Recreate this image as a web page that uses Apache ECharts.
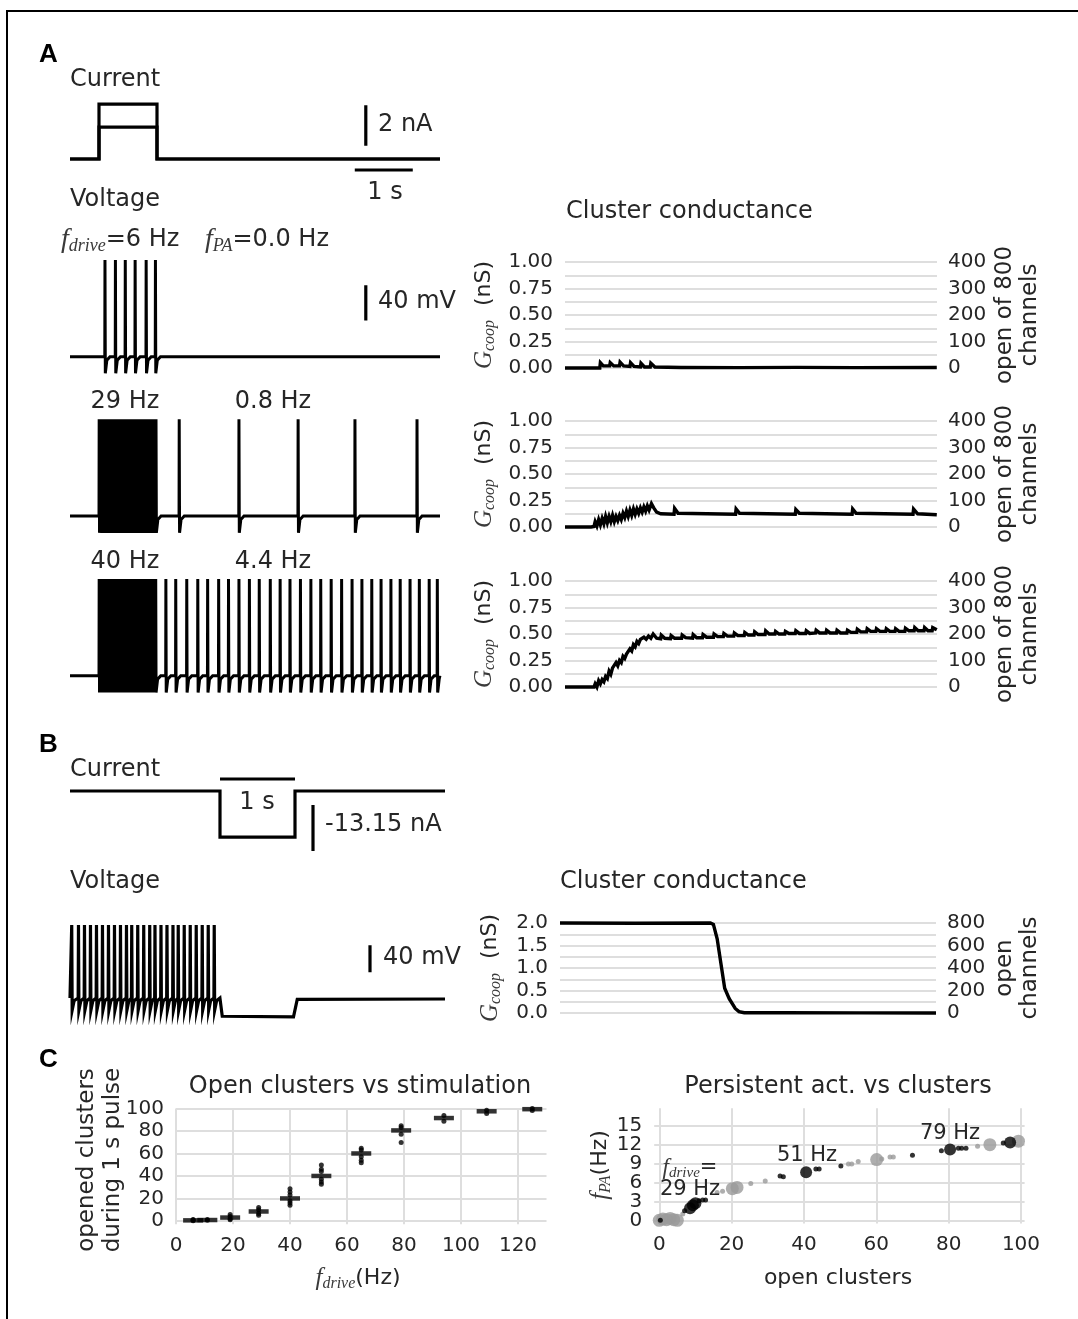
<!DOCTYPE html>
<html>
<head>
<meta charset="utf-8">
<script src="https://cdn.jsdelivr.net/npm/echarts@6.0.0/dist/echarts.min.js"></script>
<style>
html,body{margin:0;padding:0;background:#ffffff;}
#chart{width:1078px;height:1319px;}
</style>
</head>
<body>
<div id="chart"></div>
<script>
// ================= DATA =================
// ---- Panel A : stimulation (s, nA) ----
const pulseA = [0.5, 1.5];
const currentLevelsA = [1.58, 2.72];
// spike times (s)
const spikes6Hz = [0.60, 0.78, 0.95, 1.12, 1.31, 1.47];
const spikes29HzPulse = [0.50,0.535,0.57,0.605,0.64,0.675,0.71,0.745,0.78,0.815,0.85,0.885,0.92,0.955,0.99,1.025,1.06,1.095,1.13,1.165,1.20,1.235,1.27,1.305,1.34,1.375,1.41,1.445,1.48];
const spikes29HzAfter = [1.88, 2.91, 3.93, 4.91, 5.98];
const spikes40HzPulse = [0.50,0.525,0.55,0.575,0.60,0.625,0.65,0.675,0.70,0.725,0.75,0.775,0.80,0.825,0.85,0.875,0.90,0.925,0.95,0.975,1.00,1.025,1.05,1.075,1.10,1.125,1.15,1.175,1.20,1.225,1.25,1.275,1.30,1.325,1.35,1.375,1.40,1.425,1.45,1.475];
const spikes40HzAfter = [1.65,1.82,2.01,2.20,2.37,2.56,2.73,2.91,3.09,3.26,3.45,3.62,3.79,3.97,4.15,4.32,4.50,4.68,4.86,5.03,5.20,5.36,5.53,5.69,5.86,6.02,6.19,6.33];
// cluster conductance [t (s), G (nS)]
const gcoop6Hz = [[0,0],[0.60,0],[0.61,0.05],[0.66,0.02],[0.77,0.02],[0.78,0.05],[0.84,0.02],[0.94,0.02],[0.95,0.055],[1.01,0.02],[1.12,0.015],[1.13,0.05],[1.19,0.015],[1.30,0.01],[1.31,0.045],[1.37,0.01],[1.47,0.01],[1.48,0.045],[1.55,0.01],[2.0,0.005],[3.0,0.004],[4.0,0.006],[5.0,0.004],[6.41,0.005]];
const gcoop29Hz = [[0,0],[0.45,0],[0.50,0.005],[0.52,0.05],[0.55,0.01],[0.58,0.07],[0.61,0.02],[0.64,0.08],[0.67,0.03],[0.70,0.10],[0.73,0.04],[0.76,0.10],[0.79,0.05],[0.82,0.11],[0.85,0.05],[0.88,0.10],[0.91,0.06],[0.94,0.11],[0.97,0.07],[1.00,0.13],[1.03,0.09],[1.06,0.15],[1.09,0.10],[1.12,0.16],[1.15,0.11],[1.18,0.17],[1.21,0.12],[1.24,0.17],[1.27,0.13],[1.30,0.18],[1.33,0.14],[1.36,0.19],[1.39,0.15],[1.42,0.20],[1.45,0.16],[1.49,0.22],[1.53,0.18],[1.58,0.14],[1.65,0.125],[1.88,0.12],[1.89,0.175],[1.95,0.13],[2.94,0.12],[2.95,0.17],[3.01,0.13],[3.97,0.12],[3.98,0.165],[4.04,0.13],[4.95,0.12],[4.96,0.17],[5.02,0.13],[6.00,0.12],[6.01,0.17],[6.08,0.125],[6.41,0.115]];
const gcoop40Hz = [[0,0],[0.50,0],[0.52,0.03],[0.55,0.00],[0.58,0.06],[0.61,0.03],[0.64,0.07],[0.67,0.05],[0.70,0.10],[0.73,0.08],[0.76,0.15],[0.79,0.12],[0.82,0.18],[0.85,0.17],[0.88,0.23],[0.91,0.20],[0.94,0.25],[0.97,0.23],[1.00,0.29],[1.03,0.27],[1.06,0.31],[1.09,0.30],[1.12,0.36],[1.15,0.34],[1.18,0.40],[1.21,0.38],[1.24,0.43],[1.27,0.41],[1.30,0.45],[1.33,0.44],[1.36,0.47],[1.40,0.45],[1.44,0.48],[1.48,0.46],[1.52,0.50],[1.58,0.46],[1.65,0.455],[1.66,0.49],[1.72,0.46],[1.82,0.455],[1.83,0.485],[1.89,0.46],[2.01,0.46],[2.02,0.49],[2.08,0.465],[2.20,0.46],[2.21,0.495],[2.27,0.465],[2.37,0.465],[2.38,0.495],[2.44,0.47],[2.56,0.47],[2.57,0.50],[2.63,0.475],[2.73,0.475],[2.74,0.505],[2.80,0.48],[2.91,0.48],[2.92,0.51],[2.98,0.485],[3.09,0.485],[3.10,0.515],[3.16,0.49],[3.26,0.49],[3.27,0.52],[3.33,0.495],[3.45,0.495],[3.46,0.53],[3.52,0.50],[3.62,0.50],[3.63,0.525],[3.69,0.50],[3.79,0.50],[3.80,0.525],[3.86,0.505],[3.97,0.505],[3.98,0.53],[4.04,0.505],[4.15,0.505],[4.16,0.53],[4.22,0.505],[4.32,0.51],[4.33,0.535],[4.39,0.51],[4.50,0.51],[4.51,0.535],[4.57,0.51],[4.68,0.51],[4.69,0.535],[4.75,0.51],[4.86,0.51],[4.87,0.535],[4.93,0.515],[5.03,0.515],[5.04,0.545],[5.10,0.52],[5.20,0.52],[5.21,0.55],[5.27,0.525],[5.36,0.525],[5.37,0.55],[5.43,0.525],[5.53,0.525],[5.54,0.55],[5.60,0.525],[5.69,0.525],[5.70,0.55],[5.76,0.525],[5.86,0.525],[5.87,0.555],[5.93,0.53],[6.02,0.53],[6.03,0.56],[6.09,0.53],[6.19,0.53],[6.20,0.56],[6.26,0.53],[6.33,0.53],[6.34,0.56],[6.41,0.54]];

// ---- Panel B ----
const pulseB = [2.0, 3.0];
const currentB = -13.15;
const spikesB = [0.02,0.11,0.19,0.27,0.35,0.43,0.51,0.59,0.67,0.75,0.82,0.90,0.98,1.06,1.13,1.21,1.29,1.37,1.44,1.52,1.60,1.68,1.76,1.84,1.92];
const voltageBTail = [[2.0,-70],[2.03,-97],[2.98,-98],[3.03,-72],[5.0,-71.5]];
const gcoopB = [[0,2.0],[1.0,1.995],[2.0,2.0],[2.04,1.97],[2.09,1.65],[2.15,0.99],[2.19,0.55],[2.25,0.32],[2.33,0.10],[2.38,0.03],[2.45,0.005],[3.0,0.005],[4.0,0.002],[5.0,0.0]];

// ---- Panel C left : opened clusters vs f_drive ----
const fdriveMeans = [6, 11, 19, 29, 40, 51, 65, 79, 94, 109, 125];
const openedMeans = [0.5, 0.8, 3, 8.4, 20, 40, 60, 80.5, 91.5, 97.5, 99.4];
const trialFdrive  = [6,6,6, 11,11, 19,19,19,19, 29,29,29,29, 40,40,40,40,40,40, 51,51,51,51,51,51, 65,65,65,65,65, 79,79,79,79, 94,94, 109,109, 125,125];
const trialOpened  = [0.2,0.9,1.2, 0.5,1.3, 1,2,4,5.7, 5,6.5,10,12, 14,16,18,23,25.7,28.7, 32.6,34.7,37,44,46,49.7, 51.8,54,57,63,64.7, 69.8,77,83,84.7, 88.6,93.7, 95.5,98.5, 98.2,100];

// ---- Panel C right : f_PA vs open clusters ----
const blackBigX = [8.5, 9.3, 10.0, 40.6, 80.4, 97.0];
const blackBigY = [2.0, 2.5, 2.8, 7.7, 11.3, 12.4];
const blackSmallX = [0.3, 7.0, 11.0, 12.0, 12.8, 33.4, 34.3, 43.3, 44.2, 50.2, 70.0, 78.0, 82.7, 83.6, 84.8, 95.1];
const blackSmallY = [0.1, 1.6, 3.2, 3.3, 3.3, 7.1, 7.0, 8.2, 8.2, 8.7, 10.4, 11.1, 11.5, 11.5, 11.5, 12.3];
const grayBigX = [0, 1, 2, 3, 4, 5, 20.2, 21.5, 60.1, 91.4, 99.3];
const grayBigY = [0.1, 0.3, 0.2, 0.4, 0.2, 0.1, 5.1, 5.3, 9.7, 12.05, 12.6];
const graySmallX = [6.5, 16.0, 17.5, 25.3, 29.3, 52.3, 53.2, 55.0, 61.5, 63.8, 64.7, 88.0];
const graySmallY = [1.1, 4.5, 4.7, 5.9, 6.3, 9.0, 9.0, 9.4, 9.8, 10.1, 10.1, 11.8];

// ---- tick labels ----
const condTicksA = [0, 0.25, 0.5, 0.75, 1.0];
const chanTicksA = [0, 100, 200, 300, 400];
const condTicksB = [0, 0.5, 1.0, 1.5, 2.0];
const chanTicksB = [0, 200, 400, 600, 800];
const cLeftXTicks = [0, 20, 40, 60, 80, 100, 120];
const cLeftYTicks = [0, 20, 40, 60, 80, 100];
const cRightXTicks = [0, 20, 40, 60, 80, 100];
const cRightYTicksEven = [0, 6, 12];
const cRightYTicksOdd = [3, 9, 15];

// scale bars [t, value] pairs
const scaleA1s = [[4.91, -0.545], [5.91, -0.545]];
const scaleA2nA = [[5.1, 0.66], [5.1, 2.66]];
const scaleA40mV = [[5.1, -29], [5.1, 11]];
const scaleB1s = [[2.0, 3.43], [3.0, 3.43]];
const scaleB13nA = [[3.24, -4.0], [3.24, -17.15]];
const scaleB40mV = [[4.0, -32], [4.0, 8]];

// ================= BUILD =================
const TXT = '#262626';
const GRIDC = '#dedede';
const SANS = 'DejaVu Sans';
const SERIF = 'Liberation Serif';

const grids = [], xAxes = [], yAxes = [], series = [];

function hiddenPanel(box, xr, yr) {
  const gi = grids.push(Object.assign({ outerBoundsMode: 'none', containLabel: false }, box)) - 1;
  const xi = xAxes.push({ type: 'value', gridIndex: gi, min: xr[0], max: xr[1], show: false }) - 1;
  const yi = yAxes.push({ type: 'value', gridIndex: gi, min: yr[0], max: yr[1], show: false }) - 1;
  return { gi, xi, yi };
}
function addLine(ax, data, width) {
  series.push({
    type: 'line', xAxisIndex: ax.xi, yAxisIndex: ax.yi, data: data,
    showSymbol: false, symbol: 'none', clip: false, silent: true, animation: false,
    lineStyle: { color: '#000', width: width || 3, join: 'miter' }
  });
}
function spikeTrace(spikes, tEnd, base, peak, trough, tail) {
  const pts = [[0, base]];
  const tailPts = tail || [[tEnd, base]];
  for (let i = 0; i < spikes.length; i++) {
    const t = spikes[i];
    const next = i + 1 < spikes.length ? spikes[i + 1] : tailPts[0][0];
    pts.push([t, base], [t + 0.003, peak], [t + 0.009, trough]);
    const rec = Math.min(t + 0.035, next - 0.004);
    if (rec > t + 0.009) pts.push([rec, base - 4]);
    const back = Math.min(t + 0.09, next - 0.001);
    if (back > rec && back > t + 0.009) pts.push([back, base]);
  }
  tailPts.forEach(p => pts.push(p));
  return pts;
}
function stepPulse(t0, t1, level, tEnd) {
  return [[0, 0], [t0, 0], [t0, level], [t1, level], [t1, 0], [tEnd, 0]];
}

// ---- Panel A left ----
const A_PPS = 58;           // px per second
const A_W = 370, A_TMAX = A_W / A_PPS;
const axACur = hiddenPanel({ left: 70, top: 98.4, width: A_W, height: 80.8 }, [0, A_TMAX], [-1, 3]);
currentLevelsA.forEach(l => addLine(axACur, stepPulse(pulseA[0], pulseA[1], l, A_TMAX), 3.2));
addLine(axACur, scaleA1s, 3.2);
addLine(axACur, scaleA2nA, 3.2);

const mvPx = 0.883;
const vH = 150 * mvPx;
const vBases = [356.7, 516, 675.7];
const axV = vBases.map(b => hiddenPanel({ left: 70, top: b - 120 * mvPx, width: A_W, height: vH }, [0, A_TMAX], [-100, 50]));
addLine(axV[0], spikeTrace(spikes6Hz, A_TMAX, -70, 39.5, -88.8));
addLine(axV[1], spikeTrace(spikes29HzPulse.concat(spikes29HzAfter), A_TMAX, -70, 39.5, -89));
addLine(axV[2], spikeTrace(spikes40HzPulse.concat(spikes40HzAfter), A_TMAX, -70, 39.5, -89));
addLine(axV[0], scaleA40mV, 3.2);

// ---- conductance panels ----
const labelBase = { color: TXT, fontSize: 20, fontFamily: SANS, hideOverlap: false, showMinLabel: true, showMaxLabel: true };
function condPanel(box, xmax, lmax, lint, lticks, ldec, rmax, rint, rticks, data) {
  const gi = grids.push(Object.assign({ outerBoundsMode: 'none', containLabel: false }, box)) - 1;
  const xi = xAxes.push({ type: 'value', gridIndex: gi, min: 0, max: xmax, show: false }) - 1;
  const has = (arr, v) => arr.some(a => Math.abs(a - v) < 1e-6);
  const yi = yAxes.push({
    type: 'value', gridIndex: gi, min: 0, max: lmax, interval: lint, position: 'left',
    axisLine: { show: false }, axisTick: { show: false },
    axisLabel: Object.assign({}, labelBase, { margin: 12,
      formatter: v => has(lticks, v) ? v.toFixed(ldec) : '' }),
    splitLine: { show: true, lineStyle: { color: GRIDC, width: 2 } }
  }) - 1;
  yAxes.push({
    type: 'value', gridIndex: gi, min: 0, max: rmax, interval: rint, position: 'right',
    axisLine: { show: false }, axisTick: { show: false },
    axisLabel: Object.assign({}, labelBase, { margin: 11, align: 'left',
      formatter: v => has(rticks, v) ? String(Math.round(v)) : '' }),
    splitLine: { show: false }
  });
  addLine({ xi, yi }, data, 3.4);
}
const condTops = [262, 421, 581];
[gcoop6Hz, gcoop29Hz, gcoop40Hz].forEach((d, i) =>
  condPanel({ left: 565, top: condTops[i], width: 372, height: 106 }, 372 / A_PPS,
    1, 0.125, condTicksA, 2, 400, 50, chanTicksA, d));

// ---- Panel B ----
const B_W = 375, B_TMAX = 5;
const axBCur = hiddenPanel({ left: 70, top: 791 - 5 * 3.5, width: B_W, height: 23 * 3.5 }, [0, B_TMAX], [-18, 5]);
addLine(axBCur, stepPulse(pulseB[0], pulseB[1], currentB, B_TMAX), 3.2);
addLine(axBCur, scaleB1s, 3.2);
addLine(axBCur, scaleB13nA, 3.2);
const mvPxB = 0.675;
const axBV = hiddenPanel({ left: 70, top: 998 - 120 * mvPxB, width: B_W, height: 160 * mvPxB }, [0, B_TMAX], [-110, 50]);
addLine(axBV, spikeTrace(spikesB, B_TMAX, -70, 38, -88, voltageBTail), 3.2);
addLine(axBV, scaleB40mV, 3.2);
condPanel({ left: 560, top: 923, width: 376, height: 90 }, 5, 2, 0.25, condTicksB, 1, 800, 100, chanTicksB, gcoopB);

// ---- Panel C ----
function scatterAxis(kind, gi, range, ticks, margin) {
  return { type: 'value', gridIndex: gi, min: range[0], max: range[1], position: kind === 'y' ? 'left' : 'bottom',
    axisLine: { show: false },
    axisTick: { show: false, customValues: ticks },
    axisLabel: Object.assign({}, labelBase, { customValues: ticks, margin: margin, interval: 0 }),
    splitLine: { show: true, lineStyle: { color: GRIDC, width: 2 } } };
}
function scatterAxes(box, xr, yr, xt, ytGroups) {
  const gi = grids.push(Object.assign({ outerBoundsMode: 'none', containLabel: false }, box)) - 1;
  const xi = xAxes.push(scatterAxis('x', gi, xr, xt, 11)) - 1;
  const yis = ytGroups.map(yt => yAxes.push(scatterAxis('y', gi, yr, yt, 12)) - 1);
  return { xi, yi: yis[0] };
}
const axCL = scatterAxes({ left: 176, top: 1108.5, width: 370.5, height: 115.8 }, [0, 130], [-3, 100], cLeftXTicks, [cLeftYTicks]);
series.push({ type: 'scatter', xAxisIndex: axCL.xi, yAxisIndex: axCL.yi, silent: true, animation: false,
  symbol: 'circle', symbolSize: 5, itemStyle: { color: '#000' },
  data: trialFdrive.map((f, i) => [f, trialOpened[i]]) });
series.push({ type: 'scatter', xAxisIndex: axCL.xi, yAxisIndex: axCL.yi, silent: true, animation: false,
  symbol: 'rect', symbolSize: [20, 4.5], itemStyle: { color: '#000' },
  data: fdriveMeans.map((f, i) => [f, openedMeans[i]]) });

const axCR = scatterAxes({ left: 654.2, top: 1108.3, width: 370.4, height: 115.2 }, [-1.4, 101], [-0.4, 17.8], cRightXTicks, [cRightYTicksEven, cRightYTicksOdd]);
function dots(xs, ys, size, color) {
  series.push({ type: 'scatter', xAxisIndex: axCR.xi, yAxisIndex: axCR.yi, silent: true, animation: false,
    symbol: 'circle', symbolSize: size, itemStyle: { color: color },
    data: xs.map((x, i) => [x, ys[i]]) });
}
dots(grayBigX, grayBigY, 13, '#9a9a9a');
dots(graySmallX, graySmallY, 5, '#9a9a9a');
dots(blackBigX, blackBigY, 12, '#000');
dots(blackSmallX, blackSmallY, 5, '#000');

// ---- texts (graphic) ----
const G = [];
function T(x, y, text, o) {
  o = o || {};
  G.push({ type: 'text', x: x, y: y, rotation: o.rot || 0, silent: true, z: 100,
    style: Object.assign({ text: text, fill: o.fill || TXT, fontSize: o.size || 24, fontFamily: o.family || SANS,
      fontWeight: o.weight || 'normal', align: o.align || 'left', verticalAlign: 'middle' }, o.rich ? { rich: o.rich } : {}) });
}
const mathRich = (big, small, n) => ({
  f: { fontFamily: SERIF, fontStyle: 'italic', fontSize: big, fill: '#3a3a3a' },
  s: { fontFamily: SERIF, fontStyle: 'italic', fontSize: small, fill: '#3a3a3a', padding: [Math.round(small * 0.7), 0, 0, 0] },
  n: { fontFamily: SANS, fontSize: n, fill: TXT }
});
// frame
G.push({ type: 'polyline', silent: true, shape: { points: [[7, 1319], [7, 11], [1078, 11]] }, style: { stroke: '#000', lineWidth: 2, fill: null } });
// Panel A
T(39, 55, 'A', { family: 'Liberation Sans', weight: 'bold', size: 26, fill: '#000' });
T(70, 80, 'Current');
T(378, 125, '2 nA');
T(385, 193, '1 s', { align: 'center' });
T(70, 200, 'Voltage');
T(61, 240, '{f|f}{s|drive}{n|=6 Hz}', { rich: mathRich(28, 18, 24) });
T(205, 240, '{f|f}{s|PA}{n|=0.0 Hz}', { rich: mathRich(28, 18, 24) });
T(378, 302, '40 mV');
T(125, 402, '29 Hz', { align: 'center' });
T(273, 402, '0.8 Hz', { align: 'center' });
T(125, 562, '40 Hz', { align: 'center' });
T(273, 562, '4.4 Hz', { align: 'center' });
T(566, 212, 'Cluster conductance');
[315, 474, 634].forEach(y => {
  T(484, y, '{f|G}{s|coop}{n|  (nS)}', { rot: Math.PI / 2, align: 'center', rich: mathRich(25, 16, 22) });
  T(1005, y, 'open of 800', { rot: Math.PI / 2, align: 'center', size: 23 });
  T(1030, y, 'channels', { rot: Math.PI / 2, align: 'center', size: 23 });
});
// Panel B
T(39, 745, 'B', { family: 'Liberation Sans', weight: 'bold', size: 26, fill: '#000' });
T(70, 770, 'Current');
T(257, 803, '1 s', { align: 'center' });
T(325, 825, '-13.15 nA');
T(70, 882, 'Voltage');
T(383, 958, '40 mV');
T(560, 882, 'Cluster conductance');
T(490, 968, '{f|G}{s|coop}{n|  (nS)}', { rot: Math.PI / 2, align: 'center', rich: mathRich(25, 16, 22) });
T(1005, 968, 'open', { rot: Math.PI / 2, align: 'center', size: 23 });
T(1030, 968, 'channels', { rot: Math.PI / 2, align: 'center', size: 23 });
// Panel C
T(39, 1060, 'C', { family: 'Liberation Sans', weight: 'bold', size: 26, fill: '#000' });
T(360, 1087, 'Open clusters vs stimulation', { align: 'center' });
T(87, 1160, 'opened clusters', { rot: Math.PI / 2, align: 'center', size: 23 });
T(113, 1160, 'during 1 s pulse', { rot: Math.PI / 2, align: 'center', size: 23 });
T(358, 1278, '{f|f}{s|drive}{n|(Hz)}', { align: 'center', rich: mathRich(25, 16, 22) });
T(838, 1087, 'Persistent act. vs clusters', { align: 'center' });
T(600, 1165, '{f|f}{s|PA}{n|(Hz)}', { rot: Math.PI / 2, align: 'center', rich: mathRich(25, 16, 22) });
T(838, 1278, 'open clusters', { align: 'center', size: 22 });
T(950, 1134, '79 Hz', { align: 'center', size: 21 });
T(807, 1156, '51 Hz', { align: 'center', size: 21 });
T(690, 1168, '{f|f}{s|drive}{n|=}', { align: 'center', rich: mathRich(23, 15, 21) });
T(690, 1190, '29 Hz', { align: 'center', size: 21 });

const chart = echarts.init(document.getElementById('chart'), null, { renderer: 'canvas', width: 1078, height: 1319 });
chart.setOption({
  backgroundColor: '#ffffff',
  animation: false,
  grid: grids,
  xAxis: xAxes,
  yAxis: yAxes,
  series: series,
  graphic: { elements: G }
});
</script>
</body>
</html>
